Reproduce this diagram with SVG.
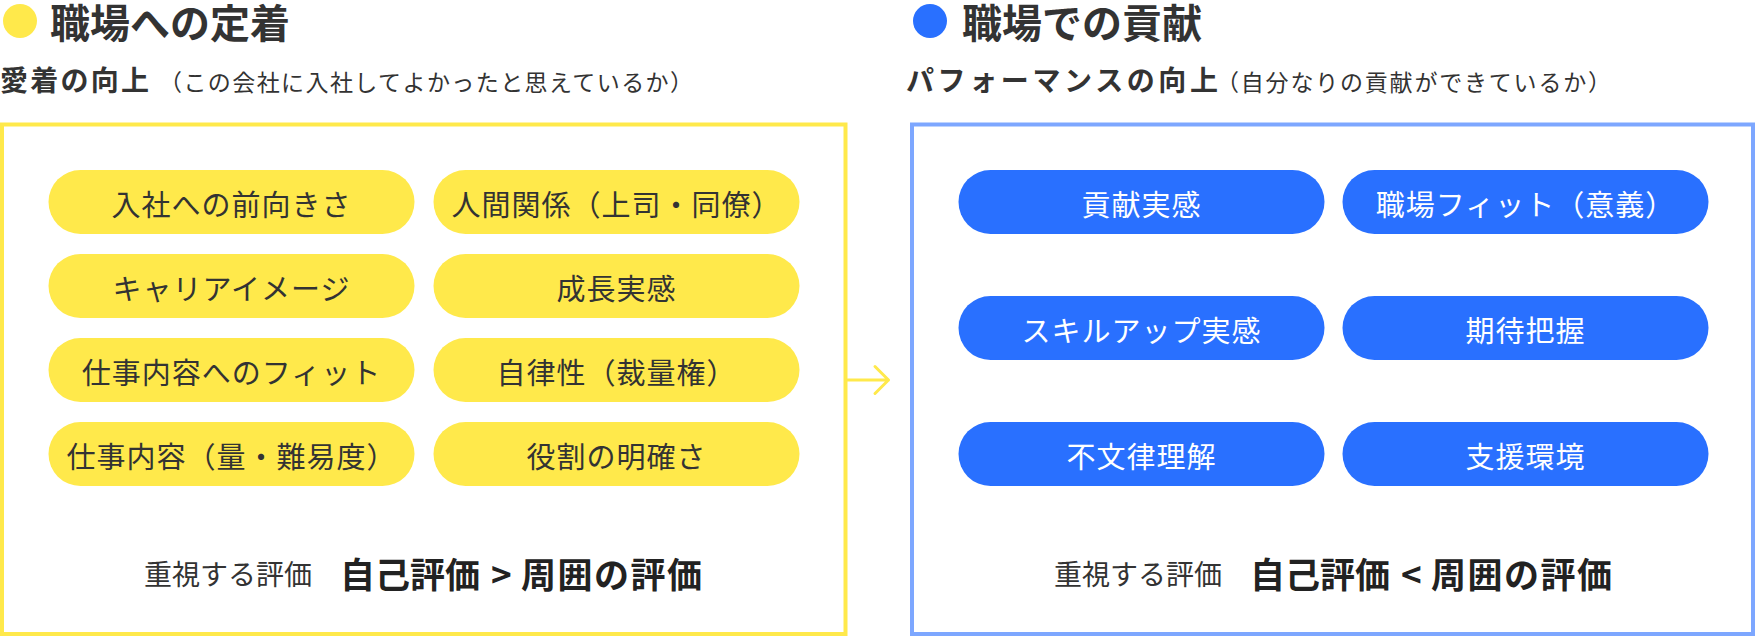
<svg xmlns="http://www.w3.org/2000/svg" width="1758" height="638" viewBox="0 0 1758 638">
<style>
text{font-family:"Noto Sans CJK JP","Noto Sans CJK SC",sans-serif;}
.title{font-size:40px;font-weight:700;fill:#333;}
.sub{font-size:28px;font-weight:700;fill:#333;}
.paren{font-size:23px;font-weight:400;fill:#333;}
.ypill{fill:#FFE94B;}
.bpill{fill:#2970FF;}
.pt{font-size:29px;letter-spacing:1px;text-anchor:middle;}
.yt{fill:#333;}
.bt{fill:#fff;}
.evsmall{font-size:28px;fill:#333;}
.evbig{font-size:35px;font-weight:700;fill:#222;}
.ybox{fill:#fff;stroke:#FFE94B;stroke-width:4;}
.bbox{fill:#fff;stroke:#7DA7FF;stroke-width:4;}
.conn{fill:none;stroke:#FFE94B;stroke-width:3;stroke-linecap:round;stroke-linejoin:round;}
</style>
<rect width="1758" height="638" fill="#fff"/>

<g id="left-panel">
  <rect class="ybox" x="2" y="124.5" width="843.5" height="509.5"/>
  <circle cx="20" cy="21" r="17" fill="#FFE94B"/>
  <text class="title" x="50" y="38">職場への定着</text>
  <text class="sub" x="0" y="91" textLength="149" lengthAdjust="spacing">愛着の向上</text>
  <text class="paren" x="159" y="91" textLength="534" lengthAdjust="spacing">（この会社に入社してよかったと思えているか）</text>
  <text class="evsmall" x="144" y="585">重視する評価</text>
  <text class="evbig" x="340" y="587.5">自己評価</text>
  <text class="evbig" x="491" y="587.5">&gt;</text>
  <text class="evbig" x="521" y="587.5" textLength="181" lengthAdjust="spacing">周囲の評価</text>
</g>

<g id="right-panel">
  <rect class="bbox" x="912" y="124.5" width="841" height="509.5"/>
  <circle cx="930" cy="21" r="17" fill="#2970FF"/>
  <text class="title" x="962" y="38">職場での貢献</text>
  <text class="sub" x="906" y="91" textLength="312" lengthAdjust="spacing">パフォーマンスの向上</text>
  <text class="paren" x="1216" y="91" textLength="395" lengthAdjust="spacing">（自分なりの貢献ができているか）</text>
  <text class="evsmall" x="1054" y="585">重視する評価</text>
  <text class="evbig" x="1250" y="587.5">自己評価</text>
  <text class="evbig" x="1401" y="587.5">&lt;</text>
  <text class="evbig" x="1431" y="587.5" textLength="181" lengthAdjust="spacing">周囲の評価</text>
</g>

<g id="y1"><rect class="ypill" x="48.5" y="170" width="366" height="64" rx="32"/><text class="pt yt" x="231.5" y="215.5">入社への前向きさ</text></g>
<g id="y2"><rect class="ypill" x="433.5" y="170" width="366" height="64" rx="32"/><text class="pt yt" x="616.5" y="215.5">人間関係（上司・同僚）</text></g>
<g id="y3"><rect class="ypill" x="48.5" y="254" width="366" height="64" rx="32"/><text class="pt yt" x="231.5" y="299.5">キャリアイメージ</text></g>
<g id="y4"><rect class="ypill" x="433.5" y="254" width="366" height="64" rx="32"/><text class="pt yt" x="616.5" y="299.5">成長実感</text></g>
<g id="y5"><rect class="ypill" x="48.5" y="338" width="366" height="64" rx="32"/><text class="pt yt" x="231.5" y="383.5">仕事内容へのフィット</text></g>
<g id="y6"><rect class="ypill" x="433.5" y="338" width="366" height="64" rx="32"/><text class="pt yt" x="616.5" y="383.5">自律性（裁量権）</text></g>
<g id="y7"><rect class="ypill" x="48.5" y="422" width="366" height="64" rx="32"/><text class="pt yt" x="231.5" y="467.5">仕事内容（量・難易度）</text></g>
<g id="y8"><rect class="ypill" x="433.5" y="422" width="366" height="64" rx="32"/><text class="pt yt" x="616.5" y="467.5">役割の明確さ</text></g>

<g id="b1"><rect class="bpill" x="958.5" y="170" width="366" height="64" rx="32"/><text class="pt bt" x="1141.5" y="215.5">貢献実感</text></g>
<g id="b2"><rect class="bpill" x="1342.5" y="170" width="366" height="64" rx="32"/><text class="pt bt" x="1525.5" y="215.5">職場フィット（意義）</text></g>
<g id="b3"><rect class="bpill" x="958.5" y="296" width="366" height="64" rx="32"/><text class="pt bt" x="1141.5" y="341.5">スキルアップ実感</text></g>
<g id="b4"><rect class="bpill" x="1342.5" y="296" width="366" height="64" rx="32"/><text class="pt bt" x="1525.5" y="341.5">期待把握</text></g>
<g id="b5"><rect class="bpill" x="958.5" y="422" width="366" height="64" rx="32"/><text class="pt bt" x="1141.5" y="467.5">不文律理解</text></g>
<g id="b6"><rect class="bpill" x="1342.5" y="422" width="366" height="64" rx="32"/><text class="pt bt" x="1525.5" y="467.5">支援環境</text></g>

<g id="connectors">
  <path class="conn" d="M847.5 380 H888.5 M875 366.5 L888.5 380 L875 393.5"/>
</g>
</svg>
